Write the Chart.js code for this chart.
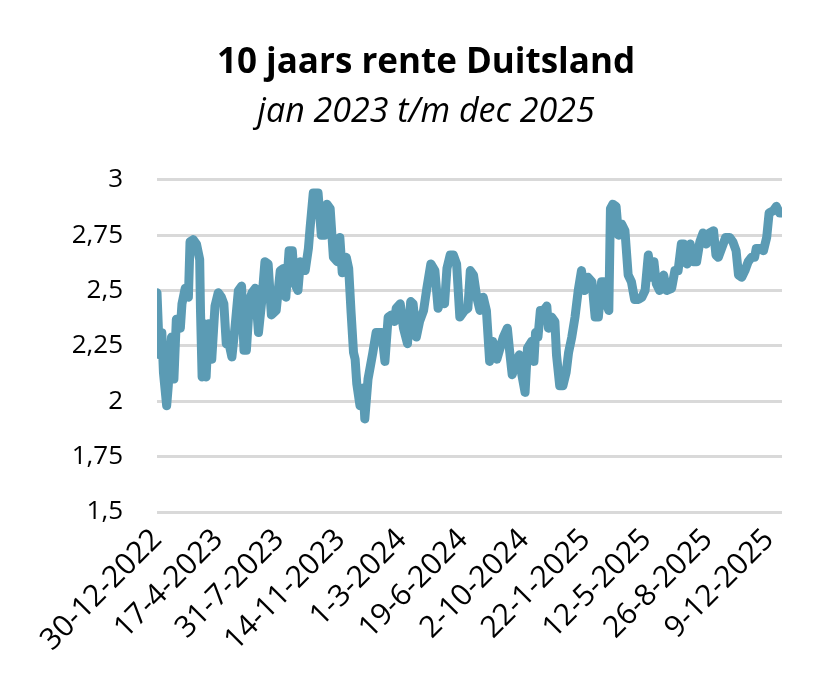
<!DOCTYPE html>
<html>
<head>
<meta charset="utf-8">
<script src="https://cdn.jsdelivr.net/npm/chart.js@4"></script>
<style>
  body { margin: 0; background: #fff; }
  #wrap { width: 836px; height: 700px; }
</style>
</head>
<body>
<div id="wrap"><canvas id="renteChart"></canvas></div>
<script>
var dagIndex = [0, 3, 6, 8, 12, 14, 18, 21, 24, 29, 31, 35, 39, 41, 45, 49, 53, 54, 56, 58,
    61, 64, 68, 72, 76, 80, 83, 86, 90, 93, 97, 101, 105, 108, 111, 115, 118, 122, 126, 130,
    134, 138, 142, 148, 153, 157, 160, 164, 168, 171, 175, 178, 184, 188, 190, 194, 200, 204, 208, 211,
    215, 219, 224, 227, 230, 235, 238, 241, 244, 246, 248, 252, 256, 258, 262, 265, 268, 272, 279, 283,
    287, 291, 295, 297, 302, 306, 311, 315, 318, 322, 326, 331, 335, 340, 345, 349, 353, 357, 360, 364,
    368, 372, 376, 382, 386, 389, 393, 397, 401, 405, 409, 413, 417, 422, 426, 430, 435, 438, 441, 446,
    450, 453, 457, 460, 465, 468, 470, 473, 476, 480, 484, 486, 490, 494, 496, 500, 504, 508, 511, 515,
    519, 523, 527, 531, 535, 540, 544, 548, 552, 555, 558, 561, 563, 566, 570, 573, 577, 581, 585, 589,
    593, 598, 602, 606, 610, 614, 617, 620, 624, 629, 633, 639, 643, 647, 651, 654, 658, 662, 666, 670,
    674, 678, 682, 686, 691, 694, 697, 701, 706, 711, 715, 719, 722, 726, 730, 734, 738, 742, 744, 749,
    753, 757, 760, 765, 769, 773, 776];
var rente = [2.49, 2.21, 2.31, 2.13, 1.98, 2.07, 2.29, 2.10, 2.37, 2.33, 2.44, 2.51, 2.47, 2.72, 2.73, 2.71, 2.64, 2.41, 2.11, 2.35,
    2.11, 2.35, 2.19, 2.43, 2.49, 2.47, 2.44, 2.26, 2.25, 2.20, 2.34, 2.50, 2.52, 2.23, 2.23, 2.46, 2.49, 2.51, 2.31, 2.45,
    2.63, 2.62, 2.39, 2.41, 2.59, 2.60, 2.47, 2.68, 2.68, 2.53, 2.50, 2.63, 2.59, 2.69, 2.78, 2.94, 2.94, 2.75, 2.75, 2.89,
    2.87, 2.65, 2.63, 2.74, 2.58, 2.65, 2.60, 2.40, 2.22, 2.19, 2.08, 1.98, 2.06, 1.92, 2.10, 2.16, 2.22, 2.31, 2.31, 2.18,
    2.38, 2.39, 2.36, 2.42, 2.44, 2.33, 2.26, 2.45, 2.44, 2.29, 2.36, 2.41, 2.51, 2.62, 2.59, 2.42, 2.47, 2.44, 2.60, 2.66,
    2.66, 2.62, 2.38, 2.41, 2.42, 2.59, 2.57, 2.47, 2.41, 2.47, 2.41, 2.18, 2.27, 2.19, 2.24, 2.29, 2.33, 2.22, 2.12, 2.18,
    2.21, 2.12, 2.04, 2.24, 2.27, 2.18, 2.31, 2.29, 2.41, 2.41, 2.43, 2.33, 2.38, 2.36, 2.21, 2.07, 2.07, 2.13, 2.22, 2.29,
    2.38, 2.50, 2.59, 2.50, 2.56, 2.54, 2.38, 2.38, 2.54, 2.54, 2.44, 2.41, 2.87, 2.89, 2.88, 2.75, 2.80, 2.77, 2.57, 2.54,
    2.46, 2.46, 2.47, 2.50, 2.66, 2.56, 2.63, 2.53, 2.50, 2.57, 2.50, 2.51, 2.59, 2.59, 2.71, 2.71, 2.62, 2.71, 2.63, 2.63,
    2.72, 2.76, 2.71, 2.76, 2.77, 2.66, 2.65, 2.69, 2.74, 2.74, 2.72, 2.68, 2.57, 2.56, 2.59, 2.63, 2.65, 2.65, 2.69, 2.69,
    2.68, 2.74, 2.85, 2.86, 2.88, 2.85, 2.85];

// as-labels, elke 76 handelsdagen
var tickLabels = ['30-12-2022', '17-4-2023', '31-7-2023', '14-11-2023', '1-3-2024', '19-6-2024',
    '2-10-2024', '22-1-2025', '12-5-2025', '26-8-2025', '9-12-2025'];
var tickStap = 76;
var laatsteDag = 776;

var punten = dagIndex.map(function(d, i) { return { x: d, y: rente[i] }; });
var lijnKleur = '#5b9bb4';
var font = 'Open Sans';

var ctx = document.getElementById('renteChart').getContext('2d');
new Chart(ctx, {
    type: 'line',
    data: {
        datasets: [{
            data: punten,
            borderColor: lijnKleur,
            backgroundColor: lijnKleur,
            borderWidth: 9,
            pointRadius: 0,
            tension: 0,
            borderJoinStyle: 'round',
            borderCapStyle: 'round'
        }]
    },
    options: {
        responsive: true,
        maintainAspectRatio: false,
        animation: false,
        layout: { padding: { left: 70, right: 54, top: 0, bottom: 0 } },
        plugins: {
            legend: { display: false },
            tooltip: { enabled: false },
            title: {
                display: true,
                text: '10 jaars rente Duitsland',
                color: '#000',
                font: { family: font, size: 35, weight: 'bold' },
                padding: { top: 42, bottom: 8 }
            },
            subtitle: {
                display: true,
                text: 'jan 2023 t/m dec 2025',
                color: '#000',
                font: { family: font, size: 34, style: 'italic' },
                padding: { top: 0, bottom: 47 }
            }
        },
        scales: {
            x: {
                type: 'linear',
                min: 0,
                max: laatsteDag,
                grid: { display: false },
                border: { display: false },
                afterBuildTicks: function(scale) {
                    scale.ticks = tickLabels.map(function(l, i) { return { value: i * tickStap }; });
                },
                afterFit: function(scale) { scale.height = 188; },
                ticks: {
                    autoSkip: false,
                    maxRotation: 45,
                    minRotation: 45,
                    padding: 2,
                    color: '#000',
                    font: { family: font, size: 30 },
                    callback: function(value) {
                        return tickLabels[Math.round(value / tickStap)];
                    }
                }
            },
            y: {
                min: 1.5,
                max: 3,
                grid: { color: '#d9d9d9', lineWidth: 3, drawTicks: false },
                border: { display: false },
                afterFit: function(scale) { scale.width = 87; },
                ticks: {
                    stepSize: 0.25,
                    padding: 34,
                    color: '#000',
                    font: { family: font, size: 26 },
                    callback: function(value) {
                        return String(value).replace('.', ',');
                    }
                }
            }
        }
    }
});
</script>
</body>
</html>
